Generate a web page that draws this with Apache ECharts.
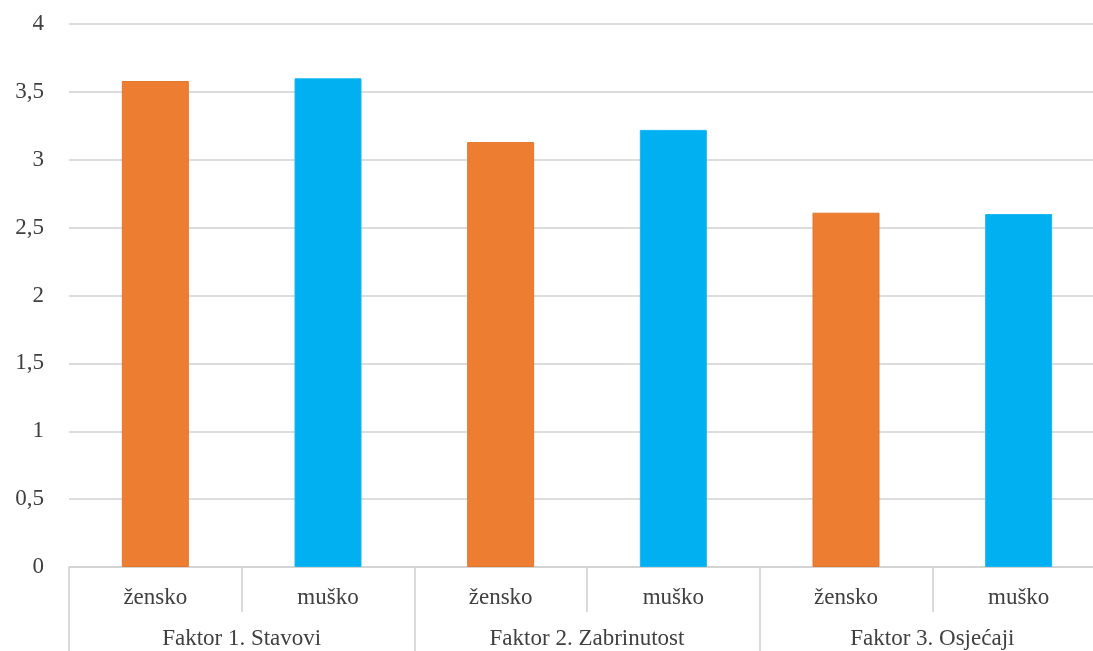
<!DOCTYPE html>
<html>
<head>
<meta charset="utf-8">
<script src="https://cdn.jsdelivr.net/npm/echarts@6/dist/echarts.min.js"></script>
<style>
html,body{margin:0;padding:0;background:#fff;}
#chart{width:1093px;height:651px;}
</style>
</head>
<body>
<div id="chart"></div>
<script>
const groups = ['Faktor 1. Stavovi', 'Faktor 2. Zabrinutost', 'Faktor 3. Osjećaji'];
const genders = ['žensko', 'muško'];
const zenskoValues = [3.58, 3.13, 2.61];
const muskoValues = [3.60, 3.22, 2.60];
const yTicks = [0, 0.5, 1, 1.5, 2, 2.5, 3, 3.5, 4];

const categories = [];
const zData = [];
const mData = [];
groups.forEach(function (g, i) {
  categories.push(genders[0] + '|' + i);
  categories.push(genders[1] + '|' + i);
  zData.push(zenskoValues[i], '-');
  mData.push('-', muskoValues[i]);
});

const font = 'Liberation Serif';
const textColor = '#404040';
const lineColor = '#d0d0d0';

const chart = echarts.init(document.getElementById('chart'), null, {renderer: 'canvas'});
chart.setOption({
  animation: false,
  backgroundColor: '#ffffff',
  grid: {left: 69, width: 1036, top: 24, bottom: 84, containLabel: false, outerBoundsMode: 'none'},
  xAxis: [
    {
      type: 'category',
      data: categories,
      position: 'bottom',
      axisLine: {show: true, onZero: false, lineStyle: {color: lineColor, width: 1.5}},
      axisTick: {show: true, interval: 0, length: 45, alignWithLabel: false, lineStyle: {color: lineColor, width: 1.5}},
      axisLabel: {
        interval: 0, margin: 19, color: textColor, fontFamily: font, fontSize: 23,
        formatter: function (v) { return v.split('|')[0]; }
      },
      splitLine: {show: false}
    },
    {
      type: 'category',
      data: groups,
      position: 'bottom',
      offset: 0,
      axisLine: {show: false, onZero: false},
      axisTick: {show: true, interval: 0, length: 90, lineStyle: {color: lineColor, width: 1.5}},
      axisLabel: {interval: 0, margin: 60, color: textColor, fontFamily: font, fontSize: 23},
      splitLine: {show: false}
    }
  ],
  yAxis: {
    type: 'value',
    min: yTicks[0],
    max: yTicks[yTicks.length - 1],
    interval: 0.5,
    axisLine: {show: false},
    axisTick: {show: false},
    axisLabel: {
      margin: 25, color: textColor, fontFamily: font, fontSize: 23,
      formatter: function (v) { return String(v).replace('.', ','); }
    },
    splitLine: {show: true, lineStyle: {color: lineColor, width: 1.5}}
  },
  series: [
    {
      name: genders[0],
      type: 'bar',
      stack: 'g',
      xAxisIndex: 0,
      barWidth: 67,
      data: zData,
      itemStyle: {color: '#ED7D31', borderColor: '#E2772C', borderWidth: 1}
    },
    {
      name: genders[1],
      type: 'bar',
      stack: 'g',
      xAxisIndex: 0,
      barWidth: 67,
      data: mData,
      itemStyle: {color: '#00B0F0', borderColor: '#1AB6F0', borderWidth: 1}
    }
  ]
});
</script>
</body>
</html>
